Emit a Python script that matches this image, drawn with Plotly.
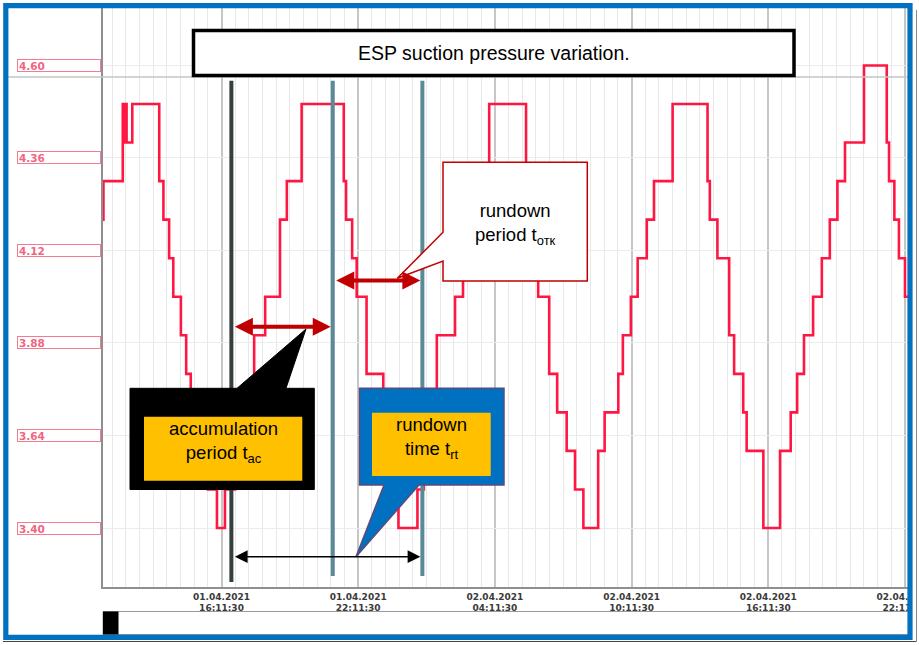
import pandas as pd
import plotly.graph_objects as go

# ---------------- data ----------------
BASE = pd.Timestamp("2021-04-01 10:11:30")   # time origin for the minute offsets

# step changes of ESP suction pressure: minutes after BASE, pressure level
t_min = [43, 49, 100, 103, 105, 107, 109, 110, 125,
         196, 207, 222, 233, 253, 267, 279, 301, 324,
         348, 369, 396, 419, 446, 475, 514, 532, 571,
         682, 688, 704, 716, 742, 786, 798, 812, 826,
         876, 893, 909, 927, 975, 996, 1020, 1041, 1065,
         1162, 1172, 1183, 1194, 1223, 1244, 1269, 1291, 1313,
         1352, 1369, 1405, 1417, 1438, 1456, 1480, 1499, 1548,
         1640, 1646, 1666, 1697, 1710, 1734, 1743, 1787, 1831,
         1859, 1876, 1894, 1918, 1941, 1962, 1982, 2002, 2052,
         2112, 2118, 2132, 2144, 2160, 2215]
pressure = [4.2, 4.3, 4.5, 4.4, 4.5, 4.4, 4.5, 4.4, 4.5,
            4.3, 4.2, 4.1, 4.0, 3.9, 3.8, 3.7, 3.6, 3.5,
            3.4, 3.5, 3.6, 3.7, 3.9, 4.0, 4.2, 4.3, 4.5,
            4.3, 4.2, 4.1, 4.0, 3.8, 3.7, 3.6, 3.5, 3.4,
            3.5, 3.6, 3.7, 3.9, 4.0, 4.1, 4.2, 4.3, 4.5,
            4.3, 4.2, 4.1, 4.0, 3.8, 3.7, 3.6, 3.5, 3.4,
            3.6, 3.7, 3.8, 3.9, 4.0, 4.1, 4.2, 4.3, 4.5,
            4.3, 4.2, 4.1, 3.9, 3.8, 3.7, 3.6, 3.4, 3.6,
            3.7, 3.8, 3.9, 4.0, 4.1, 4.2, 4.3, 4.4, 4.6,
            4.4, 4.3, 4.2, 4.1, 4.0, 4.0]

# marker lines: start of accumulation, end of accumulation, end of rundown (minutes after BASE)
event_min = [386, 653, 889]

x_tick_min = [360, 720, 1080, 1440, 1800, 2160]
x_tick_date = ["01.04.2021", "01.04.2021", "02.04.2021", "02.04.2021", "02.04.2021", "02.04.2021"]
x_tick_time = ["16:11:30", "22:11:30", "04:11:30", "10:11:30", "16:11:30", "22:11:30"]
x_range_min = [47.9, 2196.9]
minor_step_min = 36

y_ticks = [3.40, 3.64, 3.88, 4.12, 4.36, 4.60]
y_tick_text = ["3.40", "3.64", "3.88", "4.12", "4.36", "4.60"]
y_range = [3.247, 4.749]

arrow_levels = {"acc": 3.922, "otk": 4.042, "rt": 3.3255}

title_text = "ESP suction pressure variation."
acc_text = "accumulation<br>period t<sub>ac</sub>"
rt_text = "rundown<br>time t<sub>rt</sub>"
otk_text = "rundown<br>period t<sub>отк</sub>"


def tstr(m):
    return (BASE + pd.to_timedelta(m, unit="min")).strftime("%Y-%m-%d %H:%M:%S")


times = [tstr(m) for m in t_min]
events = [tstr(m) for m in event_min]
x_range = [tstr(x_range_min[0]), tstr(x_range_min[1])]
x_tickvals = [tstr(m) for m in x_tick_min]

# ---------------- layout geometry (pixels -> paper) ----------------
W, H = 919, 645
L, R, T, B = 103, 0, 8, 58
PW, PH = W - L - R, H - T - B


def fx(px):
    return (px - L) / PW


def fy(py):
    return (H - B - py) / PH


def path(pts):
    return "M " + " L ".join(f"{fx(x):.5f},{fy(y):.5f}" for x, y in pts) + " Z"


fig = go.Figure()
fig.add_trace(go.Scatter(
    x=times, y=pressure, mode="lines",
    line=dict(shape="hv", color="#ff1744", width=2.6),
    hoverinfo="skip", showlegend=False,
))
# carrier for the second (time-of-day) label row
fig.add_trace(go.Scatter(x=[x_tickvals[0]], y=[None], xaxis="x2", mode="lines",
                         hoverinfo="skip", showlegend=False))

fig.update_layout(
    width=W, height=H,
    margin=dict(l=L, r=R, t=T, b=B, pad=0, autoexpand=False),
    paper_bgcolor="white", plot_bgcolor="white",
    showlegend=False,
    font=dict(family="Liberation Sans, Arial, sans-serif"),
)

tickfont = dict(family="DejaVu Sans", size=9, color="#3a3a3a", weight="bold")
fig.update_layout(
    xaxis=dict(
        type="date", range=x_range, automargin=False,
        tickmode="array", tickvals=x_tickvals, ticktext=x_tick_date,
        tickfont=tickfont, ticks="", ticklabelstandoff=0, ticklabeloverflow="allow",
        showgrid=True, gridcolor="#c6c6c6", gridwidth=2,
        minor=dict(tick0=tstr(0), dtick=minor_step_min * 60 * 1000,
                   showgrid=True, gridcolor="#e8e8e8", gridwidth=1),
        showline=True, linecolor="#8f8f8f", linewidth=2, zeroline=False,
        fixedrange=True,
    ),
    xaxis2=dict(
        type="date", range=x_range, overlaying="x", anchor="y", side="bottom", automargin=False,
        tickmode="array", tickvals=x_tickvals, ticktext=x_tick_time,
        tickfont=tickfont, ticks="", ticklabelstandoff=14, ticklabeloverflow="allow",
        showgrid=False, showline=False, zeroline=False, fixedrange=True,
    ),
    yaxis=dict(
        range=y_range, tickmode="array", tickvals=y_ticks, showticklabels=False,
        showgrid=True, gridcolor="#ececec", gridwidth=1, automargin=False,
        showline=True, linecolor="#8f8f8f", linewidth=2, zeroline=False,
        fixedrange=True,
    ),
)

shapes = []
# separator line under the title
shapes.append(dict(type="line", xref="paper", yref="paper", x0=fx(8), x1=fx(919), y0=fy(77), y1=fy(77),
                   line=dict(color="#c4c4c4", width=1.5), layer="above"))
# event marker lines
ev_cols = ["#36403f", "#5a8a98", "#5a8a98"]
ev_bottom = [582, 576, 576]
for e, c, b in zip(events, ev_cols, ev_bottom):
    shapes.append(dict(type="line", xref="x", yref="paper", x0=e, x1=e, y0=fy(b), y1=fy(80.7),
                       line=dict(color=c, width=4), layer="above"))
# title box
shapes.append(dict(type="rect", xref="paper", yref="paper", x0=fx(193.5), x1=fx(794), y0=fy(75.5), y1=fy(30.5),
                   line=dict(color="black", width=3.5), fillcolor="white", layer="above"))
# black callout
shapes.append(dict(type="path", xref="paper", yref="paper",
                   path=path([(130, 388.3), (237, 388.3), (306, 329), (286, 388.3), (314.3, 388.3),
                              (314.3, 489.5), (130, 489.5)]),
                   fillcolor="black", line=dict(color="black", width=1), layer="above"))
shapes.append(dict(type="rect", xref="paper", yref="paper", x0=fx(144), x1=fx(302.3), y0=fy(480.7), y1=fy(416.7),
                   fillcolor="#ffc000", line=dict(width=0), layer="above"))
# blue callout
shapes.append(dict(type="path", xref="paper", yref="paper",
                   path=path([(359.5, 388.3), (504, 388.3), (504, 485), (419, 485), (356, 556.7),
                              (384, 485), (359.5, 485)]),
                   fillcolor="#0070c0", line=dict(color="#5f497a", width=1.5), layer="above"))
shapes.append(dict(type="rect", xref="paper", yref="paper", x0=fx(372), x1=fx(490.7), y0=fy(476), y1=fy(412.7),
                   fillcolor="#ffc000", line=dict(width=0), layer="above"))
# white callout with red border
shapes.append(dict(type="path", xref="paper", yref="paper",
                   path=path([(443, 162.3), (587.3, 162.3), (587.3, 281), (443, 281), (443, 261),
                              (397.3, 278.3), (443, 232.3)]),
                   fillcolor="white", line=dict(color="#c00000", width=1.5), layer="above"))
# scrollbar under the chart
shapes.append(dict(type="rect", xref="paper", yref="paper", x0=fx(103), x1=fx(925), y0=fy(634.5), y1=fy(611.5),
                   fillcolor="white", line=dict(color="#9a9a9a", width=1), layer="above"))
shapes.append(dict(type="rect", xref="paper", yref="paper", x0=fx(103), x1=fx(118.5), y0=fy(634.5), y1=fy(611.5),
                   fillcolor="black", line=dict(width=0), layer="above"))
# white area outside the frame
shapes.append(dict(type="rect", xref="paper", yref="paper", x0=fx(912), x1=fx(930), y0=fy(660), y1=fy(-10),
                   fillcolor="white", line=dict(width=0), layer="above"))
shapes.append(dict(type="rect", xref="paper", yref="paper", x0=fx(-10), x1=fx(930), y0=fy(660), y1=fy(639.5),
                   fillcolor="white", line=dict(width=0), layer="above"))
# blue frame
shapes.append(dict(type="rect", xref="paper", yref="paper", x0=fx(5.8), x1=fx(910), y0=fy(637.3), y1=fy(5.6),
                   line=dict(color="#0070c0", width=5.2), layer="above"))
# thin shadow lines
shapes.append(dict(type="line", xref="paper", yref="paper", x0=fx(3), x1=fx(916.5), y0=fy(641.5), y1=fy(641.5),
                   line=dict(color="#444444", width=1), layer="above"))
shapes.append(dict(type="line", xref="paper", yref="paper", x0=fx(916.5), x1=fx(916.5), y0=fy(641.5), y1=fy(10),
                   line=dict(color="#888888", width=1), layer="above"))
fig.update_layout(shapes=shapes)

ann = []
# boxed y labels
for v, t in zip(y_ticks, y_tick_text):
    ann.append(dict(xref="paper", yref="y", x=fx(17), y=v, xanchor="left", yanchor="middle",
                    text="<b>" + t + "</b>", showarrow=False, align="left",
                    width=80, height=9, borderpad=1, bordercolor="#f27d92", borderwidth=1,
                    font=dict(family="DejaVu Sans", size=10.5, color="#ef6682")))
# title
ann.append(dict(xref="paper", yref="paper", x=fx(494), y=fy(52.5), xanchor="center", yanchor="middle",
                text=title_text, showarrow=False,
                font=dict(family="Liberation Sans, Arial", size=19.5, color="black")))
# callout texts
for (cx, cy, txt) in [(223, 442, acc_text), (431, 438, rt_text), (515, 224, otk_text)]:
    ann.append(dict(xref="paper", yref="paper", x=fx(cx), y=fy(cy), xanchor="center", yanchor="middle",
                    text=txt, showarrow=False, align="center",
                    font=dict(family="Liberation Sans, Arial", size=18.5, color="black")))
# double-headed arrows between marker lines
for (a, b, lvl, col, w, sz) in [
    (0, 1, arrow_levels["acc"], "#c00000", 4, 0.9),
    (1, 2, arrow_levels["otk"], "#c00000", 4, 0.9),
    (0, 2, arrow_levels["rt"], "black", 1.5, 1.7),
]:
    ann.append(dict(xref="x", yref="y", axref="x", ayref="y",
                    x=events[b], y=lvl, ax=events[a], ay=lvl, text="",
                    showarrow=True, arrowside="end+start", arrowhead=2, startarrowhead=2,
                    arrowsize=sz, startarrowsize=sz, arrowwidth=w, arrowcolor=col,
                    standoff=2, startstandoff=2))
fig.update_layout(annotations=ann)

fig.write_html("out.html", config={"displayModeBar": False},
               post_script="document.body.style.margin='0px';document.body.style.padding='0px';")
